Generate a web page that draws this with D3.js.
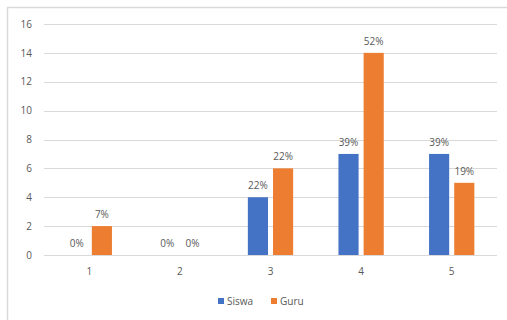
<!DOCTYPE html>
<html>
<head>
<meta charset="utf-8">
<script src="https://cdn.jsdelivr.net/npm/d3@7"></script>
<style>
  body { margin: 0; background: #fff; }
  svg { display: block; }
  text { font-family: "Open Sans", "Liberation Sans", sans-serif; fill: #595959; }
</style>
</head>
<body>
<div id="chart"></div>
<script>
// chart data
var categories = ['1', '2', '3', '4', '5'];
var seriesNames = ['Siswa', 'Guru'];
var siswa = [0, 0, 4, 7, 7];
var guru = [2, 0, 6, 14, 5];
var siswaLabels = ['0%', '0%', '22%', '39%', '39%'];
var guruLabels = ['7%', '0%', '22%', '52%', '19%'];
var yTicks = [0, 2, 4, 6, 8, 10, 12, 14, 16];

var colors = ['#4472C4', '#ED7D31'];
var width = 507, height = 320;
var margin = { top: 24, right: 10, bottom: 65, left: 44 };

var svg = d3.select('#chart').append('svg')
    .attr('width', width)
    .attr('height', height);

// chart area border (only top and left edges visible in the crop)
svg.append('path')
    .attr('d', 'M7.5,' + height + 'V7.5H' + width)
    .attr('fill', 'none')
    .attr('stroke', '#d9d9d9')
    .attr('stroke-width', 1.5);

var x0 = d3.scaleBand()
    .domain(categories)
    .range([margin.left, width - margin.right])
    .paddingInner(0.5)
    .paddingOuter(0.25);

var x1 = d3.scaleBand()
    .domain(seriesNames)
    .range([0, x0.bandwidth()])
    .paddingInner(0.2);

var y = d3.scaleLinear()
    .domain([0, 16])
    .range([height - margin.bottom, margin.top]);

// gridlines
svg.append('g')
    .selectAll('line')
    .data(yTicks)
    .enter().append('line')
    .attr('x1', margin.left)
    .attr('x2', width - margin.right)
    .attr('y1', function (d) { return Math.round(y(d)) + 0.5; })
    .attr('y2', function (d) { return Math.round(y(d)) + 0.5; })
    .attr('stroke', '#d9d9d9')
    .attr('stroke-width', 1);

// y axis
var yAxis = svg.append('g')
    .attr('transform', 'translate(' + (margin.left - 12) + ',0)')
    .call(d3.axisLeft(y).tickValues(yTicks).tickSize(0).tickPadding(0));
yAxis.select('.domain').remove();
yAxis.selectAll('text')
    .style('font-size', '10px')
    .style('fill', '#595959')
    .style('font-family', '"Open Sans", "Liberation Sans", sans-serif');

// x axis
var xAxis = svg.append('g')
    .attr('transform', 'translate(0,' + (height - margin.bottom) + ')')
    .call(d3.axisBottom(d3.scaleBand().domain(categories).range([margin.left, width - margin.right]))
        .tickSize(0).tickPadding(13));
xAxis.select('.domain').remove();
xAxis.selectAll('text')
    .style('font-size', '10px')
    .style('fill', '#595959')
    .style('font-family', '"Open Sans", "Liberation Sans", sans-serif');

var rows = categories.map(function (c, i) {
    return [
        { cat: c, key: 'Siswa', value: siswa[i], label: siswaLabels[i], color: colors[0] },
        { cat: c, key: 'Guru', value: guru[i], label: guruLabels[i], color: colors[1] }
    ];
});

var groups = svg.append('g')
    .selectAll('g')
    .data(rows)
    .enter().append('g')
    .attr('transform', function (d) { return 'translate(' + x0(d[0].cat) + ',0)'; });

groups.selectAll('rect')
    .data(function (d) { return d; })
    .enter().append('rect')
    .attr('x', function (d) { return x1(d.key); })
    .attr('y', function (d) { return y(d.value); })
    .attr('width', x1.bandwidth())
    .attr('height', function (d) { return y(0) - y(d.value); })
    .attr('fill', function (d) { return d.color; });

groups.selectAll('text')
    .data(function (d) { return d; })
    .enter().append('text')
    .attr('x', function (d) { return x1(d.key) + x1.bandwidth() / 2; })
    .attr('y', function (d) { return y(d.value) - 8; })
    .attr('text-anchor', 'middle')
    .style('font-size', '10px')
    .text(function (d) { return d.label; });

// legend
var legend = svg.append('g')
    .attr('transform', 'translate(218,301)');
var legendX = [0, 53];
seriesNames.forEach(function (name, i) {
    var g = legend.append('g').attr('transform', 'translate(' + legendX[i] + ',0)');
    g.append('rect')
        .attr('x', 0).attr('y', -3)
        .attr('width', 6).attr('height', 6)
        .attr('fill', colors[i]);
    g.append('text')
        .attr('x', 9).attr('y', 0)
        .attr('dy', '0.35em')
        .style('font-size', '10px')
        .text(name);
});
</script>
</body>
</html>
